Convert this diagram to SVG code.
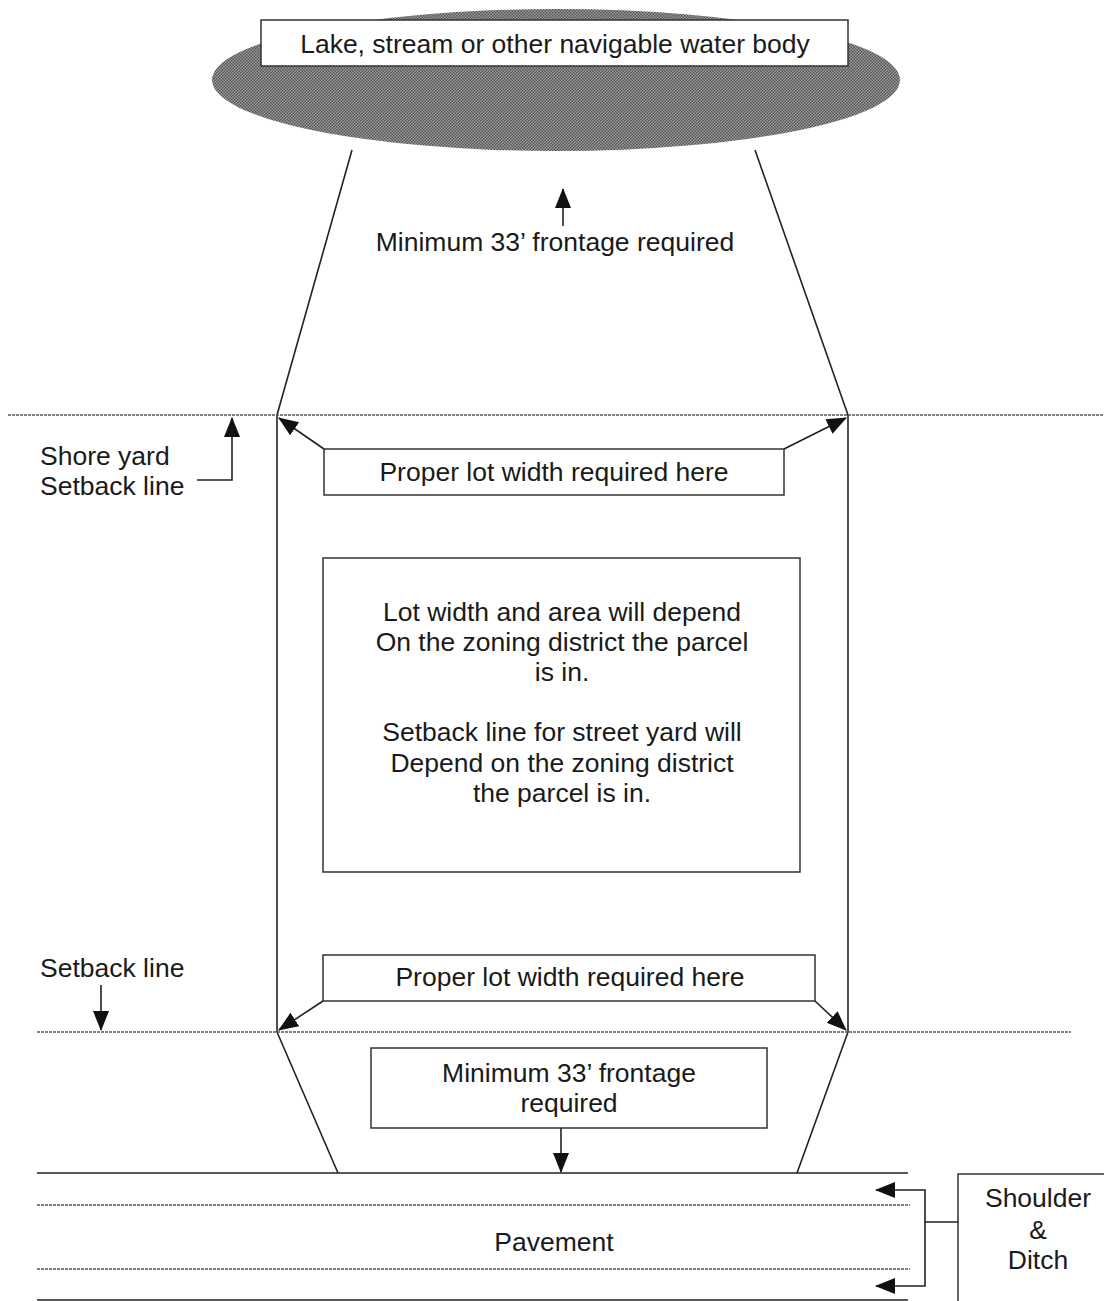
<svg xmlns="http://www.w3.org/2000/svg" width="1104" height="1301" viewBox="0 0 1104 1301">
<style>
text{font-family:"Liberation Sans",Arial,sans-serif;font-size:26.5px;fill:#1a1a1a}
.c{text-anchor:middle}
.box{fill:#fff;stroke:#333;stroke-width:1.5}
.ln{fill:none;stroke:#222;stroke-width:1.6}
.dot{fill:none;stroke:#555;stroke-width:1.6;stroke-dasharray:3 1}
.arr{fill:none;stroke:#222;stroke-width:1.6;marker-end:url(#ah)}
</style>
<defs>
<marker id="ah" markerUnits="userSpaceOnUse" markerWidth="20" markerHeight="18" viewBox="0 0 20 18" refX="19" refY="9" orient="auto">
<path d="M0,1 L20,9 L0,17 Z" fill="#111"/>
</marker>
<pattern id="dots" width="3" height="3" patternUnits="userSpaceOnUse">
<rect width="3" height="3" fill="#a0a0a0"/>
<rect width="1.5" height="1.5" fill="#505050"/>
<rect x="1.5" y="1.5" width="1.5" height="1.5" fill="#505050"/>
</pattern>
</defs>
<rect width="1104" height="1301" fill="#fff"/>

<g id="water">
<ellipse cx="556" cy="80" rx="344" ry="71" fill="url(#dots)"/>
<rect class="box" x="261" y="20" width="587" height="46"/>
<text class="c" x="555" y="53">Lake, stream or other navigable water body</text>
</g>

<g id="lot-lines">
<line class="ln" x1="352" y1="150" x2="277" y2="415"/>
<line class="ln" x1="755" y1="150" x2="848" y2="415"/>
<line class="ln" x1="277" y1="415" x2="277" y2="1032"/>
<line class="ln" x1="848" y1="415" x2="848" y2="1032"/>
<line class="ln" x1="277" y1="1032" x2="338" y2="1173"/>
<line class="ln" x1="848" y1="1032" x2="797" y2="1173"/>
</g>

<g id="setback-lines">
<line class="dot" x1="8" y1="415" x2="1104" y2="415"/>
<line class="dot" x1="37" y1="1032" x2="1071" y2="1032"/>
</g>

<g id="road">
<line class="ln" x1="37" y1="1173" x2="908" y2="1173"/>
<line class="dot" x1="37" y1="1205" x2="910" y2="1205"/>
<line class="dot" x1="37" y1="1269" x2="910" y2="1269"/>
<line class="ln" x1="37" y1="1300" x2="908" y2="1300"/>
<text id="pavement" class="c" x="554" y="1251">Pavement</text>
</g>

<g id="frontage-top">
<text class="c" x="555" y="251">Minimum 33’ frontage required</text>
</g>

<g id="shore-yard-label">
<text x="40" y="465">Shore yard</text>
<text x="40" y="495">Setback line</text>
</g>

<g id="lot-width-top">
<rect class="box" x="324" y="449" width="460" height="46"/>
<text class="c" x="554" y="481">Proper lot width required here</text>
</g>

<g id="info-box">
<rect class="box" x="323" y="558" width="477" height="314"/>
<text class="c" x="562" y="621">Lot width and area will depend</text>
<text class="c" x="562" y="651">On the zoning district the parcel</text>
<text class="c" x="562" y="681">is in.</text>
<text class="c" x="562" y="741">Setback line for street yard will</text>
<text class="c" x="562" y="772">Depend on the zoning district</text>
<text class="c" x="562" y="802">the parcel is in.</text>
</g>

<g id="setback-label">
<text x="40" y="977">Setback line</text>
</g>

<g id="lot-width-bottom">
<rect class="box" x="323" y="955" width="492" height="46"/>
<text class="c" x="570" y="986">Proper lot width required here</text>
</g>

<g id="frontage-bottom">
<rect class="box" x="371" y="1048" width="396" height="80"/>
<text class="c" x="569" y="1082">Minimum 33’ frontage</text>
<text class="c" x="569" y="1112">required</text>
</g>

<g id="shoulder-ditch">
<rect class="box" x="958" y="1174" width="150" height="130"/>
<text class="c" x="1038" y="1207">Shoulder</text>
<text class="c" x="1038" y="1239">&amp;</text>
<text class="c" x="1038" y="1269">Ditch</text>
</g>

<g id="connectors">
<line class="arr" x1="563" y1="226" x2="563" y2="189"/>
<polyline class="arr" points="197,480 232,480 232,418"/>
<line class="arr" x1="324" y1="449" x2="279" y2="418"/>
<line class="arr" x1="784" y1="449" x2="846" y2="418"/>
<line class="arr" x1="101" y1="985" x2="101" y2="1030"/>
<line class="arr" x1="323" y1="1001" x2="279" y2="1030"/>
<line class="arr" x1="815" y1="1001" x2="846" y2="1030"/>
<line class="arr" x1="561" y1="1128" x2="561" y2="1172"/>
<polyline class="arr" points="958,1222 925,1222 925,1190 876,1190"/>
<polyline class="arr" points="925,1222 925,1286 876,1286"/>
</g>
</svg>
